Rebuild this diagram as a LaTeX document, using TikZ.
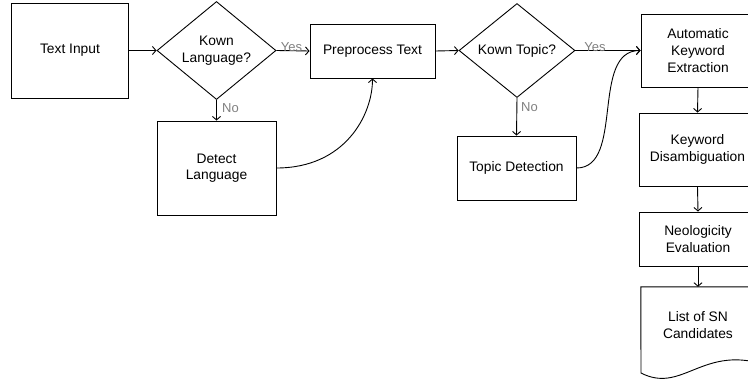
\documentclass[tikz,border=0pt]{standalone}
\usepackage{fontspec}
\setmainfont{Liberation Sans}
\usetikzlibrary{shapes.geometric,arrows.meta}
\begin{document}
\begin{tikzpicture}[x=1pt,y=-1pt,
  every node/.style={font=\fontsize{13.8}{16.6}\selectfont, align=center, inner sep=0pt},
  box/.style={draw, line width=0.9pt, rectangle},
  dia/.style={draw, line width=0.9pt, diamond},
  lbl/.style={font=\fontsize{13}{15}\selectfont, text=black!50},
  conn/.style={line width=0.9pt, -{Straight Barb[length=3.5pt,width=8pt,line width=0.9pt]}}
]
\useasboundingbox (0,0) rectangle (748,381);
\clip (0,0) rectangle (748,381);

\node[box, minimum width=117pt, minimum height=95pt] (ti) at (70,50.5) {Text Input};
\node[dia, minimum width=119pt, minimum height=95pt] (kl) at (216.5,50.5) {Kown\\Language?};
\node[box, minimum width=125pt, minimum height=54pt] (pp) at (372.5,51) {Preprocess Text};
\node[box, minimum width=119pt, minimum height=94pt] (dl) at (216.5,168) {Detect\\Language};
\node[dia, minimum width=116pt, minimum height=94pt] (kt) at (517,50.5) {Kown Topic?};
\node[box, minimum width=119pt, minimum height=64pt] (td) at (516.5,168) {Topic Detection};
\node[box, minimum width=114pt, minimum height=73pt] (ake) at (698,50.5) {Automatic\\Keyword\\Extraction};
\node[box, minimum width=117pt, minimum height=73pt] (kd) at (697.5,149.5) {Keyword\\Disambiguation};
\node[box, minimum width=118pt, minimum height=54pt] (ne) at (698,239) {Neologicity\\Evaluation};
\node[minimum width=114pt, minimum height=76pt] (ls) at (698,325) {List of SN\\Candidates};
\draw[line width=0.9pt] (ls.north west) -- (ls.north east) -- (755,362)
  .. controls (700,350) and (680,393) .. (641,373) -- cycle;

\draw[conn] (ti.east) -- (kl.west);
\draw[conn] (kl.east) -- (pp.west);
\draw[conn] (kl.south) -- (dl.north);
\draw[conn] (dl.east) .. controls (345,168) and (372.5,115) .. (pp.south);
\draw[conn] (pp.east) -- (kt.west);
\draw[conn] (kt.east) -- (ake.west);
\draw[conn] (kt.south) -- (td.north);
\draw[conn] (td.east) .. controls (625,168) and (590,50.5) .. (ake.west);
\draw[conn] (ake.south) -- (kd.north);
\draw[conn] (kd.south) -- (ne.north);
\draw[conn] (ne.south) -- (ls.north);

\node[lbl, anchor=base] (y1) at (291.5,51) {Yes};
\node[lbl, anchor=base] (y2) at (595,51) {Yes};
\node[lbl, anchor=base west] (n1) at (222,112) {No};
\node[lbl, anchor=base west] (n2) at (521,111) {No};
\end{tikzpicture}
\end{document}
